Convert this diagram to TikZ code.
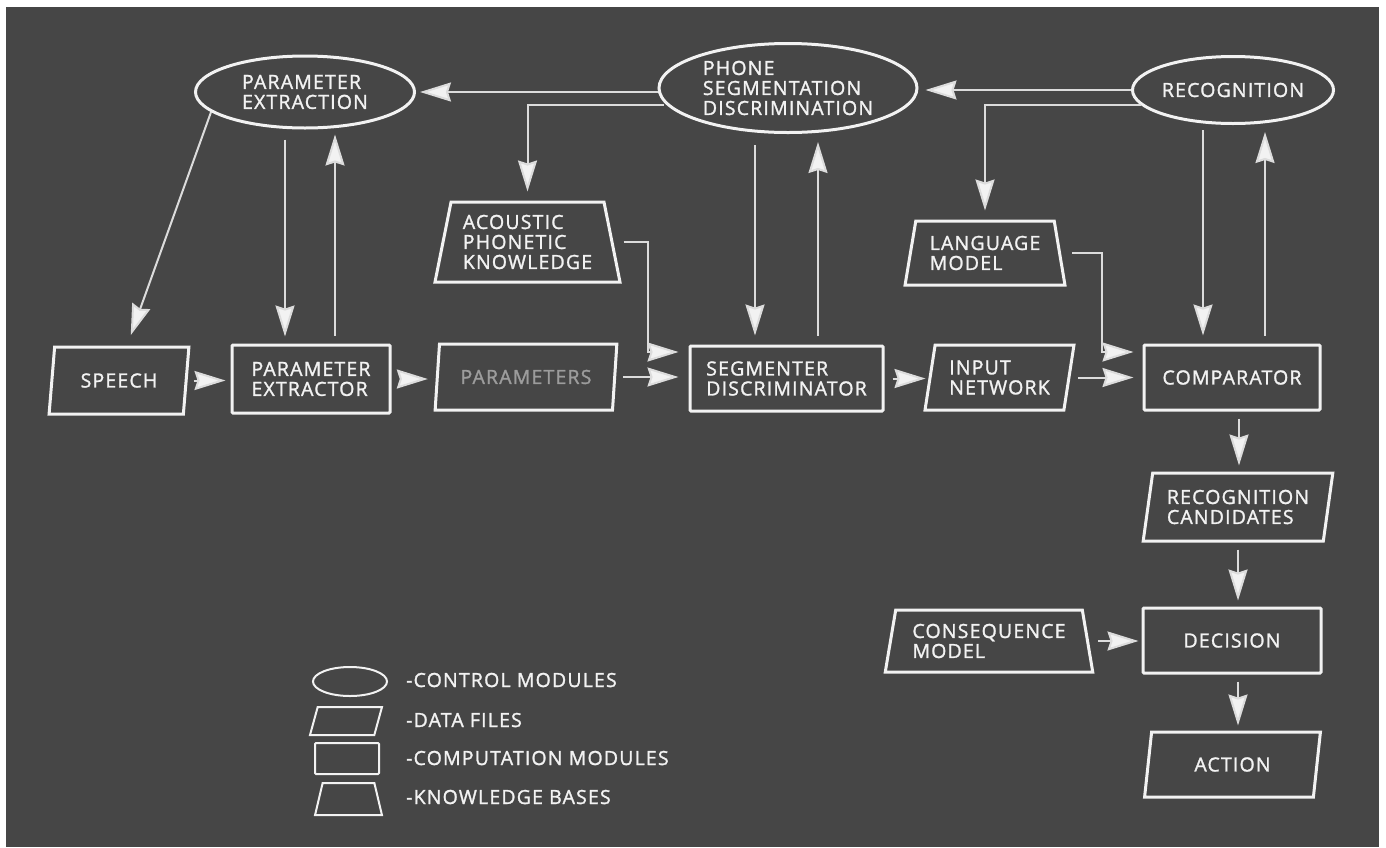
\documentclass[tikz,border=0pt]{standalone}
\usepackage{fontspec}
\setmainfont{Open Sans}[LetterSpace=6, FakeBold=1.4]
\usetikzlibrary{shapes.geometric,arrows.meta,calc}
\definecolor{board}{HTML}{464646}
\definecolor{ink}{HTML}{F2F2F2}
\definecolor{wire}{HTML}{DCDCDC}
\definecolor{dimink}{HTML}{9C9C9C}
\begin{document}
\begin{tikzpicture}[x=1pt,y=-1pt,
  every node/.style={font=\fontsize{19.5}{20}\selectfont, text=ink, inner sep=0pt, align=left},
  frame/.style={draw=ink, line width=3pt},
  ctrl/.style={frame, ellipse},
  comp/.style={frame, rectangle, rounded corners=1pt},
  datafile/.style={frame, trapezium, trapezium left angle=77, trapezium right angle=103, trapezium stretches=true},
  kbase/.style={frame, trapezium, trapezium left angle=76, trapezium right angle=76, trapezium stretches=true},
  sz/.style 2 args={minimum width=#1pt, minimum height=#2pt},
  arr/.style={draw=wire, line width=2pt, -{Stealth[length=31pt 0 0,width=19pt 0,inset=3pt,fill=ink]}},
  legendtext/.style={anchor=base west, font=\fontsize{19.5}{20}\selectfont},
]
% sheet and dark board
\fill[white] (0,0) rectangle (1386,847);
\fill[board] (6,7) rectangle (1379,847);
\useasboundingbox (0,0) rectangle (1386,847);

% control modules
\node[ctrl, sz={219}{72}] (pe) at (305,92) {PARAMETER\\EXTRACTION};
\node[ctrl, sz={258}{89}] (phone) at (788,88) {PHONE\\SEGMENTATION\\DISCRIMINATION};
\node[ctrl, sz={192}{67}] (rec) at (1233,90) {RECOGNITION};

% knowledge bases
\node[kbase, sz={185}{80}] (acoustic) at (527.5,242) {ACOUSTIC\\PHONETIC\\KNOWLEDGE};
\node[kbase, sz={160}{64}] (lang) at (985,253) {LANGUAGE\\MODEL};
\node[kbase, sz={208}{62}] (conseq) at (989,641) {CONSEQUENCE\\MODEL};

% main processing chain
\node[datafile, sz={140}{67}] (speech) at (119,380.5) {SPEECH};
\node[comp, sz={158}{68}] (extractor) at (311,379) {PARAMETER\\EXTRACTOR};
\node[datafile, sz={182}{66}, text=dimink] (params) at (526,377) {PARAMETERS};
\node[comp, sz={193}{65}] (segm) at (786.5,378.5) {SEGMENTER\\DISCRIMINATOR};
\node[datafile, sz={149}{65}] (inet) at (999.5,377.5) {INPUT\\NETWORK};
\node[comp, sz={176}{65}] (cmp) at (1232,377.5) {COMPARATOR};
\node[datafile, sz={190}{68}] (cand) at (1238,507) {RECOGNITION\\CANDIDATES};
\node[comp, sz={178}{65}] (decision) at (1232,640.5) {DECISION};
\node[datafile, sz={177}{65}] (action) at (1232.5,764.5) {ACTION};

% control between control modules
\draw[arr, shorten >=4pt] (phone.west |- pe.east) -- (pe.east);
\draw[arr, shorten >=7pt] (rec.west) -- (rec.west -| phone.east);
\draw[arr, shorten >=9pt] ($(phone.center)+(-124,17)$) -| (acoustic.north);
\draw[arr, shorten >=9pt] ($(rec.center)+(-92,15)$) -| (lang.north);

% control modules and their computation modules
\draw[arr, shorten >=11pt] (pe.192) -- ([xshift=8pt]speech.north);
\draw[arr, shorten <=10pt, shorten >=7pt] ([xshift=-26pt]extractor.north |- pe.south) -- ([xshift=-26pt]extractor.north);
\draw[arr, shorten <=8pt, shorten >=5pt] ([xshift=24pt]extractor.north) -- ([xshift=24pt]extractor.north |- pe.south);
\draw[arr, shorten <=11pt, shorten >=9pt] ([xshift=-31.5pt]segm.north |- phone.south) -- ([xshift=-31.5pt]segm.north);
\draw[arr, shorten <=9pt, shorten >=8pt] ([xshift=31.5pt]segm.north) -- ([xshift=31.5pt]segm.north |- phone.south);
\draw[arr, shorten <=5pt, shorten >=8pt] ([xshift=-29pt]cmp.north |- rec.south) -- ([xshift=-29pt]cmp.north);
\draw[arr, shorten <=8pt, shorten >=7pt] ([xshift=33pt]cmp.north) -- ([xshift=33pt]cmp.north |- rec.south);

% knowledge into computation
\draw[arr, shorten <=10pt, shorten >=10pt] (acoustic.east) -| ([xshift=-41pt,yshift=26.5pt]segm.west) -- ([yshift=26.5pt]segm.west);
\draw[arr, shorten <=11pt, shorten >=9pt] (lang.east) -| ([xshift=-41pt,yshift=25.5pt]cmp.west) -- ([yshift=25.5pt]cmp.west);
\draw[arr, shorten <=9pt, shorten >=3pt] (conseq.east) -- (conseq.east -| decision.west);

% data flow
\draw[arr, shorten <=6pt, shorten >=5pt] (speech.east) -- (speech.east -| extractor.west);
\draw[arr, shorten <=9pt, shorten >=8pt] (extractor.east) -- (extractor.east -| params.west);
\draw[arr, shorten <=7pt, shorten >=10pt] (params.east) -- (params.east -| segm.west);
\draw[arr, shorten <=8pt, shorten >=3pt] (segm.east) -- (segm.east -| inet.west);
\draw[arr, shorten <=8pt, shorten >=9pt] (inet.east) -- (inet.east -| cmp.west);
\draw[arr, shorten <=7pt, shorten >=6pt] ([xshift=7pt]cmp.south) -- ([xshift=7pt]cmp.south |- cand.north);
\draw[arr, shorten <=7pt, shorten >=6pt] (cand.south) -- (cand.south |- decision.north);
\draw[arr, shorten <=7pt, shorten >=5pt] ([xshift=6pt]decision.south) -- ([xshift=6pt]decision.south |- action.north);

% legend
\node[ctrl, line width=2pt, sz={74}{29}] (lgctrl) at (350,681.5) {\phantom{XX}};
\node[datafile, line width=2pt, sz={72}{28}] (lgdata) at (346,721) {\phantom{XX}};
\node[comp, line width=2pt, sz={64}{31}] (lgcomp) at (347,758.5) {\phantom{XX}};
\node[kbase, line width=2pt, sz={67}{32}] (lgkb) at (348.5,799) {\phantom{XX}};
\node[legendtext] (lgctrltext) at (406,687) {-CONTROL MODULES};
\node[legendtext] (lgdatatext) at (406,727) {-DATA FILES};
\node[legendtext] (lgcomptext) at (406,765) {-COMPUTATION MODULES};
\node[legendtext] (lgkbtext) at (406,804) {-KNOWLEDGE BASES};
\end{tikzpicture}
\end{document}
